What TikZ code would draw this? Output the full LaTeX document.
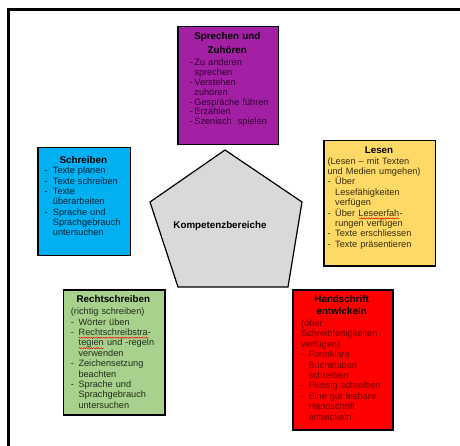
\documentclass[tikz,border=0pt]{standalone}
\usepackage{fontspec}
\setmainfont{Liberation Sans}
\usetikzlibrary{decorations.pathmorphing}
\newcommand\redwave[1]{\tikz[baseline=(w.base)]{\node[inner sep=0pt,outer sep=0pt,anchor=base] (w) {#1};\draw[red,line width=0.45pt,decorate,decoration={snake,amplitude=0.6pt,segment length=2.4pt}]([yshift=-2.2pt]w.base west) -- ([yshift=-2.2pt]w.base east);}}
\newlength\dw
\newcommand\dl[1]{\makebox[\dw][l]{-}#1}
\newcommand\ind[1]{\hspace*{\dw}#1}
\definecolor{cPurple}{RGB}{163,31,163}
\definecolor{cBlue}{RGB}{0,176,240}
\definecolor{cYellow}{RGB}{255,217,102}
\definecolor{cGreen}{RGB}{169,209,142}
\definecolor{cRed}{RGB}{255,0,0}
\definecolor{cGray}{RGB}{217,217,217}
\definecolor{tPurple}{RGB}{50,0,50}
\definecolor{tBlue}{RGB}{0,35,55}
\definecolor{tYellow}{RGB}{55,45,15}
\definecolor{tGreen}{RGB}{30,45,25}
\definecolor{tRed}{RGB}{105,0,0}
\begin{document}
\begin{tikzpicture}[x=1pt,y=-1pt,
  catbox/.style={draw=black, line width=1.5pt, anchor=north west, inner sep=0pt},
  ttl/.style={font=\fontsize{9.8}{13}\selectfont\bfseries, align=center, inner sep=0pt, anchor=base},
  bdy/.style={align=left, inner sep=0pt, anchor=base west, text width=120pt}]
\useasboundingbox (0,0) rectangle (460,446);
\fill[white] (0,0) rectangle (460,446);
\clip (0,0) rectangle (460,446);
% frame
\draw[line width=3pt] (8.5,452) -- (8.5,9.5) -- (466,9.5);
% pentagon
\draw[fill=cGray, line width=1.2pt, line join=miter] (225,150) -- (302,202) -- (288,287) -- (178,287) -- (150,202) -- cycle;
\node[font=\fontsize{9.8}{12}\selectfont\bfseries, inner sep=0pt, anchor=base] (kb) at (220,229) {Kompetenzbereiche};
% Sprechen und Zuhoeren
\node[catbox, fill=cPurple, minimum width=100.5pt, minimum height=118pt] (sp) at (177,26) {};
\node[ttl, text width=100pt, font=\fontsize{9.8}{14}\selectfont\bfseries] (spt) at (227.3,40) {Sprechen und\\Zuhören};
\node[bdy, text=tPurple, font=\fontsize{9.2}{9.85}\selectfont] (spb) at (189.6,65.7) {\setlength\dw{4.6pt}%
\dl{Zu anderen}\\ \ind{sprechen}\\ \dl{Verstehen}\\ \ind{zuhören}\\ \dl{Gespräche führen}\\ \dl{Erzählen}\\ \dl{Szenisch\ \ spielen}};
% Schreiben
\node[catbox, fill=cBlue, minimum width=92.5pt, minimum height=107.5pt] (sc) at (37,147) {};
\node[ttl, text width=90pt] (sct) at (83.3,163.2) {Schreiben};
\node[bdy, text=tBlue, font=\fontsize{9.2}{10.33}\selectfont] (scb) at (44.3,173.8) {\setlength\dw{8.4pt}%
\dl{Texte planen}\\ \dl{Texte schreiben}\\ \dl{Texte}\\ \ind{überarbeiten}\\ \dl{Sprache und}\\ \ind{Sprachgebrauch}\\ \ind{untersuchen}};
% Lesen
\node[catbox, fill=cYellow, minimum width=111.5pt, minimum height=125pt] (le) at (323.3,140) {};
\node[ttl, text width=110pt] (let) at (379,153.2) {Lesen};
\node[bdy, text=tYellow, font=\fontsize{9.2}{10.4}\selectfont] (leb) at (327.3,164.2) {\setlength\dw{7.7pt}%
(Lesen -- mit Texten\\ und Medien umgehen)\\ \dl{Über}\\ \ind{Lesefähigkeiten}\\ \ind{verfügen}\\ \dl{Über \redwave{Leseerfah}-}\\ \ind{rungen verfügen}\\ \dl{Texte erschliessen}\\ \dl{Texte präsentieren}};
% Rechtschreiben
\node[catbox, fill=cGreen, minimum width=101.3pt, minimum height=124.7pt] (rs) at (62.7,289.3) {};
\node[ttl, text width=100pt] (rst) at (113.3,302.5) {Rechtschreiben};
\node[bdy, text=tGreen, font=\fontsize{9.2}{10.37}\selectfont] (rsb) at (70.7,314.8) {\setlength\dw{7.6pt}%
(richtig schreiben)\\ \dl{Wörter üben}\\ \dl{\redwave{Rechtschreibstra}-}\\ \ind{\redwave{tegien} und -regeln}\\ \ind{verwenden}\\ \dl{Zeichensetzung}\\ \ind{beachten}\\ \dl{Sprache und}\\ \ind{Sprachgebrauch}\\ \ind{untersuchen}};
% Handschrift
\node[catbox, fill=cRed, minimum width=99.7pt, minimum height=140pt] (hs) at (292.3,289.3) {};
\node[ttl, text width=98pt, font=\fontsize{9.8}{12.4}\selectfont\bfseries] (hst) at (341.7,302.5) {Handschrift\\entwickeln};
\node[bdy, text=tRed, font=\fontsize{9.2}{10.4}\selectfont] (hsb) at (301,326.4) {\setlength\dw{7.3pt}%
(über\\ Schreibfertigkeiten\\ verfügen)\\ \dl{Formklare}\\ \ind{Buchstaben}\\ \ind{schreiben}\\ \dl{Flüssig schreiben}\\ \dl{Eine gut lesbare}\\ \ind{Handschrift}\\ \ind{entwickeln}};
\end{tikzpicture}
\end{document}
